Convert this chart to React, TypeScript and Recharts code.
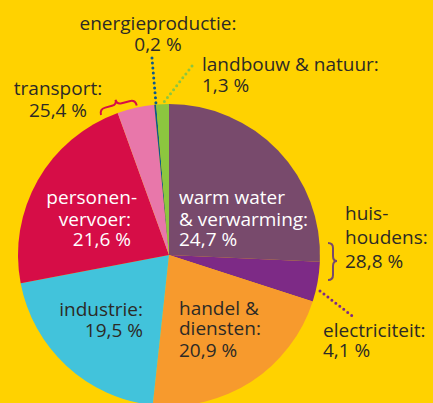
import { PieChart, Pie, Cell } from "recharts";

// energy use shares (%), clockwise from 12 o'clock
const sectors = [
  "warm water & verwarming",
  "electriciteit",
  "handel & diensten",
  "industrie",
  "personenvervoer",
  "overig transport",
  "energieproductie",
  "landbouw & natuur",
];
const shares = [24.7, 4.1, 20.9, 19.5, 21.6, 3.8, 0.2, 1.3];
const colors = ["#784a6c", "#7d2a86", "#f79a2d", "#42c3db", "#d60d47", "#e877aa", "#0b5a8c", "#8cc63f"];

const data = sectors.map((name, i) => ({ name, value: shares[i] }));

const W = 433;
const H = 403;
const FONT = "'Open Sans', sans-serif";
const DARK = "#2d2a26";

type Line = { x: number; y: number; text: string };

function Label({ lines, fill = DARK, anchor = "start" }: { lines: Line[]; fill?: string; anchor?: "start" | "middle" | "end" }) {
  return (
    <>
      {lines.map((l, i) => (
        <text key={i} x={l.x} y={l.y} fill={fill} fontSize={19} fontFamily={FONT} textAnchor={anchor}>
          {l.text}
        </text>
      ))}
    </>
  );
}

export default function App() {
  return (
    <div style={{ position: "absolute", left: 0, top: 0, width: W, height: H, background: "#ffd200", overflow: "hidden" }}>
      <PieChart width={W} height={H} margin={{ top: 0, right: 0, bottom: 0, left: 0 }}>
        <Pie
          data={data}
          dataKey="value"
          cx={169}
          cy={255}
          outerRadius={151}
          startAngle={90}
          endAngle={-270}
          stroke="none"
          isAnimationActive={false}
        >
          {data.map((d, i) => (
            <Cell key={d.name} fill={colors[i]} />
          ))}
        </Pie>
      </PieChart>

      {/* annotations */}
      <svg width={W} height={H} style={{ position: "absolute", left: 0, top: 0, pointerEvents: "none" }}>
        <Label anchor="middle" lines={[{ x: 158, y: 30, text: "energieproductie:" }, { x: 158, y: 51, text: "0,2 %" }]} />
        <Label lines={[{ x: 202, y: 71, text: "landbouw & natuur:" }, { x: 202, y: 92, text: "1,3 %" }]} />
        <Label anchor="middle" lines={[{ x: 58, y: 95, text: "transport:" }, { x: 58, y: 117, text: "25,4 %" }]} />
        <Label
          fill="#fff"
          lines={[
            { x: 179, y: 204, text: "warm water" },
            { x: 179, y: 226, text: "& verwarming:" },
            { x: 179, y: 246, text: "24,7 %" },
          ]}
        />
        <Label
          fill="#fff"
          anchor="end"
          lines={[
            { x: 137, y: 204, text: "personen-" },
            { x: 131, y: 226, text: "vervoer:" },
            { x: 131, y: 246, text: "21,6 %" },
          ]}
        />
        <Label anchor="end" lines={[{ x: 143, y: 316, text: "industrie:" }, { x: 143, y: 337, text: "19,5 %" }]} />
        <Label
          lines={[
            { x: 179, y: 315, text: "handel &" },
            { x: 179, y: 335, text: "diensten:" },
            { x: 179, y: 357, text: "20,9 %" },
          ]}
        />
        <Label
          lines={[
            { x: 345, y: 220, text: "huis-" },
            { x: 345, y: 244, text: "houdens:" },
            { x: 345, y: 268, text: "28,8 %" },
          ]}
        />
        <Label lines={[{ x: 323, y: 337, text: "electriciteit:" }, { x: 323, y: 357, text: "4,1 %" }]} />

        {/* dotted leaders */}
        <g fill="none" strokeWidth={3} strokeLinecap="round" strokeDasharray="0 5">
          <line x1={152} y1={58} x2={156} y2={104} stroke="#0b5a8c" />
          <line x1={192} y1={66} x2={164} y2={102} stroke="#8cc63f" />
          <line x1={320} y1={291} x2={355} y2={318} stroke="#7d2a86" />
        </g>

        {/* braces */}
        <path
          transform="translate(101,115) rotate(-15)"
          d="M0,0 Q0,-6 6,-6 L13,-6 Q18,-6 18,-11 Q18,-6 23,-6 L31,-6 Q37,-6 37,0"
          fill="none"
          stroke="#d60d47"
          strokeWidth={2}
        />
        <path
          d="M328,243 Q333,243 333,248 L333,256 Q333,261 337,261 Q333,261 333,266 L333,275 Q333,280 328,280"
          fill="none"
          stroke="#784a6c"
          strokeWidth={2}
        />
      </svg>
    </div>
  );
}
